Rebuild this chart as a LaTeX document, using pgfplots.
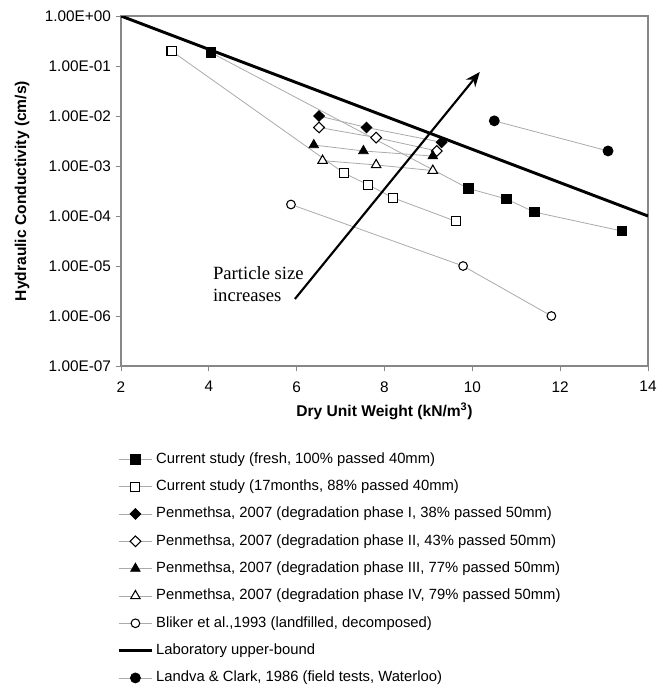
\documentclass[border=0pt]{standalone}
\usepackage{fontspec}
\setmainfont{Liberation Sans}
\newfontfamily\seriffont{Liberation Serif}
\usepackage{pgfplots}
\pgfplotsset{compat=1.18}
\usetikzlibrary{arrows.meta}
\definecolor{lineg}{RGB}{170,170,170}
\definecolor{frameg}{RGB}{135,135,135}
\begin{document}
\begin{tikzpicture}
\path[use as bounding box] (-90.75pt,-241.5pt) rectangle (411.75pt,274.5pt);
\begin{axis}[
  at={(0,0)}, anchor=south west,
  scale only axis, width=395.25pt, height=262.5pt,
  xmin=2, xmax=14, ymode=log, ymin=1e-7, ymax=1,
  xtick={2,4,...,14},
  ytick={1e-7,1e-6,1e-5,1e-4,1e-3,1e-2,1e-1,1},
  yticklabels={1.00E-07,1.00E-06,1.00E-05,1.00E-04,1.00E-03,1.00E-02,1.00E-01,1.00E+00},
  yminorticks=false,
  tick pos=left, tick align=outside, major tick length=4pt,
  every tick/.style={frameg, line width=0.6pt},
  axis line style={frameg, line width=0.8pt},
  /pgf/number format/assume math mode=true,
  ticklabel style={font=\fontsize{11.5}{13}\selectfont},
  xticklabel shift=4pt,
  xlabel={Dry Unit Weight (kN/m\textsuperscript{3})},
  ylabel={Hydraulic Conductivity (cm/s)},
  label style={font=\fontsize{11.7}{14}\selectfont\bfseries},
  xlabel style={at={(axis description cs:0.5,-0.1286)}, anchor=center},
  ylabel style={at={(axis description cs:-0.1879,0.5)}, anchor=center},
  legend style={at={(axis description cs:0,0)}, anchor=north west,
    xshift=-3pt, yshift=-64.75pt, draw=none, fill=none, inner sep=0pt,
    row sep=10.5pt, font=\fontsize{11.1}{13}\selectfont,
    nodes={inner xsep=2pt, inner ysep=0pt, text height=8pt, text depth=2pt}},
  legend cell align=left,
  legend image code/.code={
    \draw[mark repeat=2,mark phase=2,#1] plot coordinates {(0cm,0cm) (0.44cm,0cm) (0.88cm,0cm)};
  },
]
\addplot[lineg, line width=0.6pt, mark=square*, mark size=3.6pt, mark options={draw=black, fill=black, solid}]
  coordinates {(4.05,0.185) (9.91,3.55e-4) (10.77,2.2e-4) (11.41,1.2e-4) (13.41,5.0e-5)};
\addlegendentry{Current study (fresh, 100\% passed 40mm)}
\addplot[lineg, line width=0.6pt, mark=square*, mark size=3.4pt, mark options={draw=black, fill=white, line width=0.8pt, solid}]
  coordinates {(3.15,0.20) (7.08,7.2e-4) (7.63,4.2e-4) (8.20,2.3e-4) (9.63,7.8e-5)};
\addlegendentry{Current study (17months, 88\% passed 40mm)}
\addplot[lineg, line width=0.6pt, mark=diamond*, mark size=4pt, mark options={draw=black, fill=black, solid, xscale=1.35}]
  coordinates {(6.51,1.0e-2) (7.59,5.9e-3) (9.30,2.98e-3)};
\addlegendentry{Penmethsa, 2007 (degradation phase I, 38\% passed 50mm)}
\addplot[lineg, line width=0.6pt, mark=diamond*, mark size=4pt, mark options={draw=black, fill=white, line width=0.8pt, solid, xscale=1.35}]
  coordinates {(6.51,5.9e-3) (7.81,3.7e-3) (9.19,2.0e-3)};
\addlegendentry{Penmethsa, 2007 (degradation phase II, 43\% passed 50mm)}
\addplot[lineg, line width=0.6pt, mark=triangle*, mark size=4.1pt, mark options={draw=black, fill=black, solid}]
  coordinates {(6.39,2.63e-3) (7.52,2.0e-3) (9.10,1.58e-3)};
\addlegendentry{Penmethsa, 2007 (degradation phase III, 77\% passed 50mm)}
\addplot[lineg, line width=0.6pt, mark=triangle*, mark size=4.1pt, mark options={draw=black, fill=white, line width=0.8pt, solid}]
  coordinates {(6.59,1.28e-3) (7.81,1.05e-3) (9.10,8.1e-4)};
\addlegendentry{Penmethsa, 2007 (degradation phase IV, 79\% passed 50mm)}
\addplot[lineg, line width=0.6pt, mark=*, mark size=3.25pt, mark options={draw=black, fill=white, line width=0.8pt, solid}]
  coordinates {(5.87,1.7e-4) (9.79,1.0e-5) (11.80,1.0e-6)};
\addlegendentry{Bliker et al.,1993 (landfilled, decomposed)}
\addplot[black, line width=2.2pt, no marks]
  coordinates {(2,1) (14,1e-4)};
\addlegendentry{Laboratory upper-bound}
\addplot[lineg, line width=0.6pt, mark=*, mark size=3.75pt, mark options={draw=black, fill=black, solid}]
  coordinates {(10.50,8.0e-3) (13.09,2.0e-3)};
\addlegendentry{Landva \& Clark, 1986 (field tests, Waterloo)}
\draw[black, line width=1.6pt, -{Stealth[length=11pt,width=9pt,inset=3.5pt]}]
  (axis cs:5.96,2.19e-6) -- (axis cs:10.17,0.0759);
\node[anchor=north west, inner sep=0pt, align=left, font=\seriffont\fontsize{14}{16.5}\selectfont]
  at (axis cs:4.09,1e-5) {Particle size\\increases};
\end{axis}
\end{tikzpicture}
\end{document}
